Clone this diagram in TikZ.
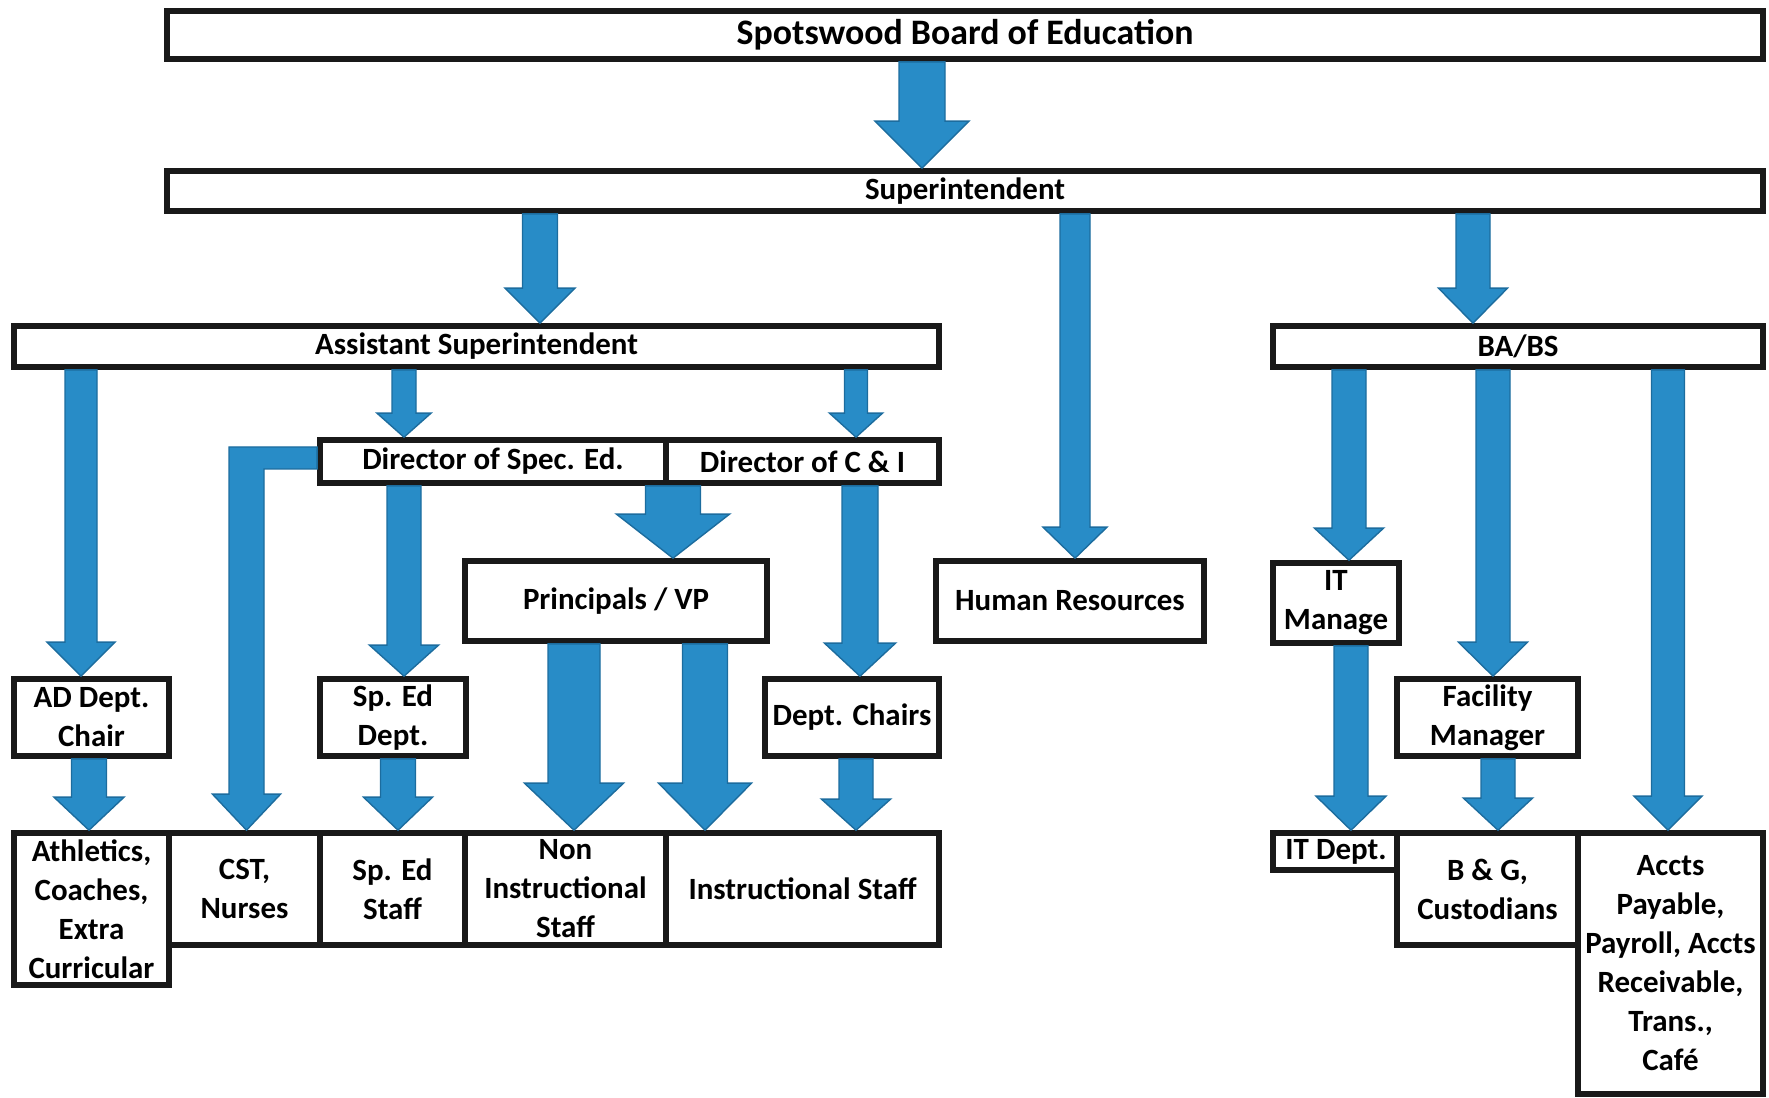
\documentclass[tikz,border=0pt]{standalone}
\usepackage{fontspec}
\setmainfont{Carlito}
\usepackage{tikz}
\usetikzlibrary{calc}

\definecolor{arrblue}{RGB}{40,140,199}
\definecolor{arredge}{RGB}{28,108,158}

% block arrow pointing down: x, from, to, shaft, head, head length
\newcommand{\barrow}[6]{%
  \path (#1,0 |- #2) coordinate (ba) (#1,0 |- #3) coordinate (bb);
  \filldraw[arr] ($(ba)+(-#4/2,0)$) -- ($(bb)+(-#4/2,#6)$) -- ($(bb)+(-#5/2,#6)$) -- (bb)
    -- ($(bb)+(#5/2,#6)$) -- ($(bb)+(#4/2,#6)$) -- ($(ba)+(#4/2,0)$) -- cycle;}

\begin{document}
\begin{tikzpicture}[font=\fontsize{8.8}{11.1}\selectfont\bfseries,
  box/.style={draw=black!90, line width=1.6pt, fill=white, align=center, inner sep=0.5pt},
  arr/.style={fill=arrblue, draw=arredge, line width=0.4pt}]
\useasboundingbox (0,0) rectangle (17.69,-10.98);
% top levels
\node[box, minimum width=15.96cm, minimum height=0.48cm,
      font=\fontsize{10.2}{12}\selectfont\bfseries] (bd) at (9.65,-0.35) {Spotswood Board of Education};
\node[box, minimum width=15.96cm, minimum height=0.40cm] (sup) at (9.65,-1.91) {Superintendent};
\node[box, minimum width=9.25cm, minimum height=0.41cm] (asup) at (4.765,-3.465) {Assistant Superintendent};
\node[box, minimum width=4.90cm, minimum height=0.41cm] (babs) at (15.18,-3.465) {BA/BS};
% directors
\node[box, minimum width=3.46cm, minimum height=0.43cm] (dse) at (4.93,-4.615) {Director of Spec. Ed.};
\node[box, minimum width=2.73cm, minimum height=0.43cm] (dci) at (8.025,-4.615) {Director of C \& I};
\node[box, minimum width=3.02cm, minimum height=0.80cm] (pvp) at (6.16,-6.01) {Principals / VP};
\node[box, minimum width=2.68cm, minimum height=0.80cm] (hr) at (10.70,-6.01) {Human Resources};
\node[box, minimum width=1.26cm, minimum height=0.80cm] (itm) at (13.36,-6.03) {IT\\Manage};
% middle row
\node[box, minimum width=1.55cm, minimum height=0.77cm] (ad) at (0.915,-7.175) {AD Dept.\\Chair};
\node[box, minimum width=1.46cm, minimum height=0.77cm] (sped) at (3.93,-7.175) {Sp. Ed\\Dept.};
\node[box, minimum width=1.74cm, minimum height=0.77cm] (dc) at (8.52,-7.175) {Dept. Chairs};
\node[box, minimum width=1.81cm, minimum height=0.77cm] (fm) at (14.875,-7.175) {Facility\\Manager};
% bottom row
\node[box, minimum width=1.55cm, minimum height=1.52cm] (ath) at (0.915,-9.09) {Athletics,\\Coaches,\\Extra\\Curricular};
\node[box, minimum width=1.51cm, minimum height=1.12cm] (cst) at (2.445,-8.89) {CST,\\Nurses};
\node[box, minimum width=1.45cm, minimum height=1.12cm] (sps) at (3.925,-8.89) {Sp. Ed\\Staff};
\node[box, minimum width=2.01cm, minimum height=1.12cm] (nis) at (5.655,-8.89) {Non\\Instructional\\Staff};
\node[box, minimum width=2.73cm, minimum height=1.12cm] (ins) at (8.025,-8.89) {Instructional Staff};
\node[box, minimum width=1.26cm, minimum height=0.37cm] (itd) at (13.36,-8.515) {IT Dept.};
\node[box, minimum width=1.81cm, minimum height=1.12cm] (bg) at (14.875,-8.89) {B \& G,\\Custodians};
\node[box, minimum width=1.85cm, minimum height=2.61cm] (acc) at (16.705,-9.635) {Accts\\Payable,\\Payroll, Accts\\Receivable,\\Trans.,\\Café};
% arrows
\barrow{9.22}{bd.south}{sup.north}{0.46}{0.94}{0.47}
\barrow{5.40}{sup.south}{asup.north}{0.35}{0.70}{0.35}
\barrow{10.75}{sup.south}{hr.north}{0.30}{0.64}{0.31}
\barrow{14.73}{sup.south}{babs.north}{0.34}{0.69}{0.35}
\barrow{0.81}{asup.south}{ad.north}{0.32}{0.68}{0.34}
\barrow{4.04}{asup.south}{dse.north}{0.24}{0.54}{0.24}
\barrow{8.56}{asup.south}{dci.north}{0.23}{0.53}{0.24}
\barrow{6.73}{dse.south}{pvp.north}{0.55}{1.13}{0.44}
\barrow{4.04}{dse.south}{sped.north}{0.34}{0.69}{0.31}
\barrow{8.60}{dci.south}{dc.north}{0.36}{0.71}{0.33}
\barrow{0.89}{ad.south}{ath.north}{0.35}{0.70}{0.33}
\barrow{3.98}{sped.south}{sps.north}{0.35}{0.69}{0.33}
\barrow{5.74}{pvp.south}{nis.north}{0.52}{0.99}{0.47}
\barrow{7.05}{pvp.south}{ins.north}{0.45}{0.93}{0.47}
\barrow{8.56}{dc.south}{ins.north}{0.34}{0.69}{0.31}
\barrow{13.49}{babs.south}{itm.north}{0.34}{0.69}{0.32}
\barrow{13.51}{itm.south}{itd.north}{0.34}{0.70}{0.34}
\barrow{14.93}{babs.south}{fm.north}{0.34}{0.69}{0.34}
\barrow{14.98}{fm.south}{bg.north}{0.34}{0.69}{0.32}
\barrow{16.68}{babs.south}{acc.north}{0.33}{0.68}{0.34}
% elbow from spec. ed. down to CST
\path ([yshift=1.45mm]dse.west) coordinate (ea) ([yshift=-0.75mm]dse.west) coordinate (eb)
  (2.465,0 |- cst.north) coordinate (ec);
\filldraw[arr] (ea) -- (2.29,0 |- ea) -- ($(ec)+(-0.175,0.36)$) -- ($(ec)+(-0.34,0.36)$) -- (ec)
  -- ($(ec)+(0.34,0.36)$) -- ($(ec)+(0.175,0.36)$) -- (2.64,0 |- eb) -- (eb) -- cycle;
\end{tikzpicture}
\end{document}
